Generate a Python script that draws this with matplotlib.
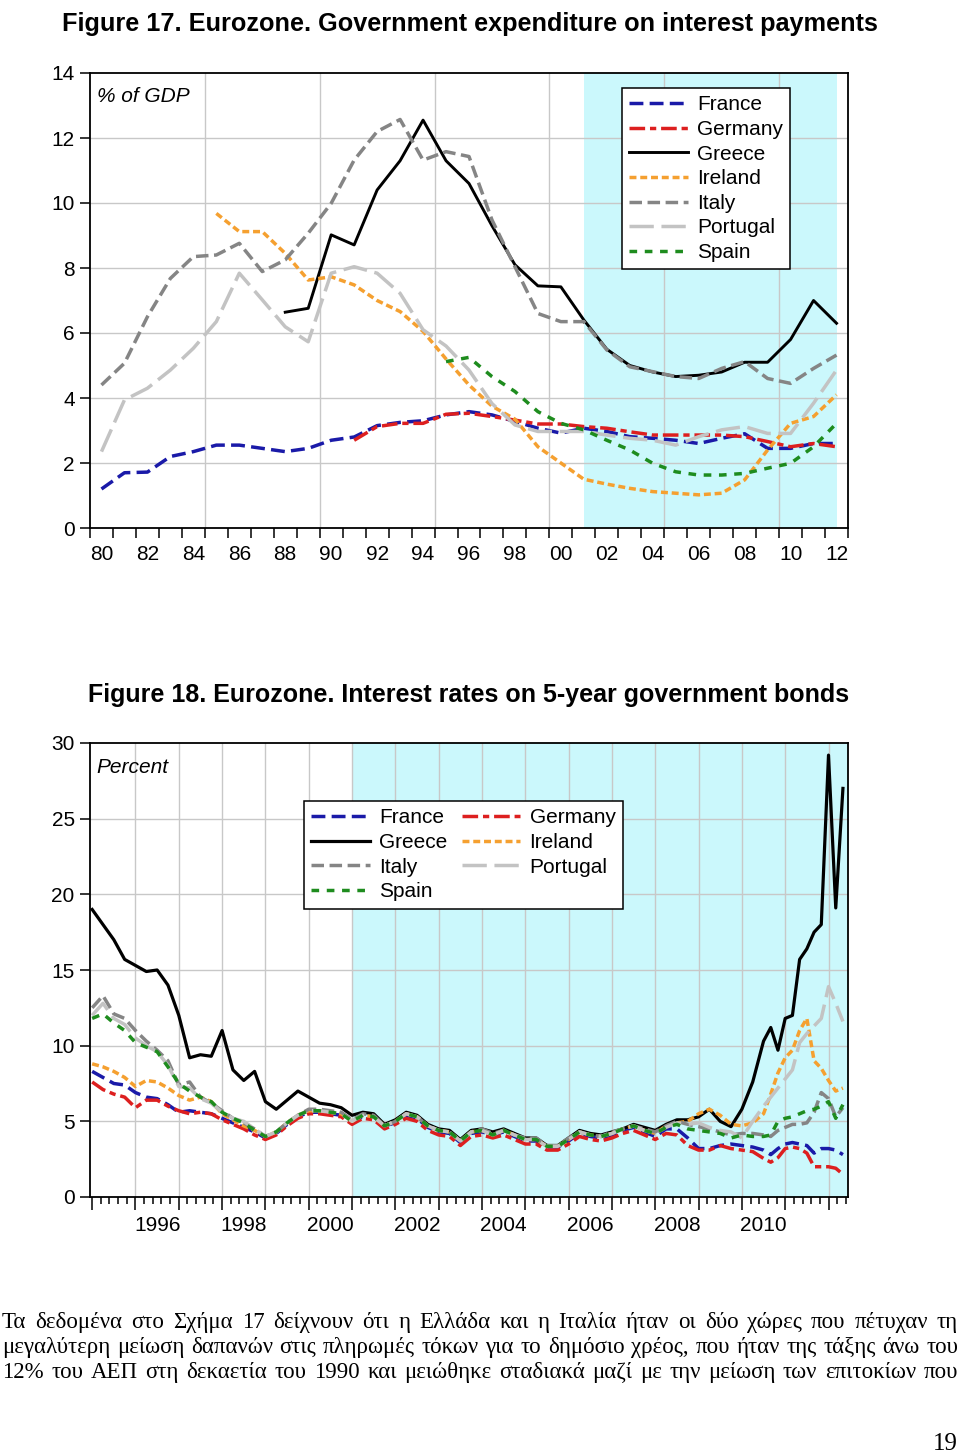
import numpy as np
import matplotlib
matplotlib.use('Agg')
import matplotlib.pyplot as plt
import matplotlib.transforms as mtransforms

plt.rcParams['font.family'] = ['Liberation Sans', 'DejaVu Sans']

W, H = 960, 1455

# ---------------- Figure 17 data (% of GDP, annual) ----------------
france_start, france1 = 1980, [1.2, 1.7, 1.72, 2.2, 2.35, 2.55, 2.55, 2.45, 2.35, 2.45, 2.7, 2.8, 3.15,
                               3.25, 3.3, 3.48, 3.58, 3.48, 3.28, 3.07, 2.92, 3.07, 2.97, 2.81, 2.76,
                               2.7, 2.6, 2.76, 2.9, 2.45, 2.45, 2.6, 2.6]
germany_start, germany1 = 1991, [2.7, 3.12, 3.22, 3.22, 3.5, 3.53, 3.43, 3.32, 3.2, 3.2, 3.12, 3.07,
                                 2.96, 2.86, 2.86, 2.86, 2.86, 2.81, 2.66, 2.5, 2.6, 2.5]
greece_start, greece1 = 1988, [6.64, 6.76, 9.02, 8.71, 10.4, 11.3, 12.55, 11.3, 10.6, 9.3, 8.1, 7.45,
                               7.42, 6.4, 5.5, 5.0, 4.8, 4.66, 4.7, 4.8, 5.1, 5.1, 5.8, 7.0, 6.3]
ireland_start, ireland1 = 1985, [9.68, 9.12, 9.12, 8.45, 7.63, 7.73, 7.48, 7.0, 6.66, 6.05, 5.2, 4.4,
                                 3.75, 3.35, 2.5, 2.0, 1.5, 1.35, 1.22, 1.12, 1.07, 1.02, 1.07, 1.48,
                                 2.4, 3.22, 3.43, 4.1]
italy_start, italy1 = 1980, [4.4, 5.07, 6.5, 7.68, 8.35, 8.4, 8.76, 7.89, 8.25, 9.07, 9.99, 11.32, 12.2,
                             12.57, 11.32, 11.58, 11.43, 9.48, 8.04, 6.6, 6.35, 6.35, 5.48, 4.96, 4.81,
                             4.66, 4.6, 4.91, 5.12, 4.6, 4.45, 4.91, 5.32]
portugal_start, portugal1 = 1980, [2.35, 3.94, 4.3, 4.86, 5.53, 6.35, 7.84, 7.02, 6.19, 5.73, 7.84, 8.04,
                                   7.84, 7.22, 6.1, 5.6, 4.86, 3.83, 3.17, 2.97, 2.97, 2.97, 2.86, 2.76,
                                   2.7, 2.55, 2.81, 3.02, 3.12, 2.91, 2.91, 3.84, 4.86]
spain_start, spain1 = 1995, [5.12, 5.25, 4.66, 4.2, 3.58, 3.22, 3.02, 2.7, 2.4, 1.99, 1.73, 1.63, 1.63,
                             1.68, 1.84, 1.99, 2.5, 3.22]

# ---------------- Figure 18 data (percent, quarterly then bi-monthly) ----------------
bond_dates = list(np.arange(1995.0, 2010.5, 0.25)) + [2010.5, 2010.667, 2010.833, 2011.0, 2011.167,
                                                     2011.333, 2011.5, 2011.667, 2011.833, 2012.0,
                                                     2012.167, 2012.333]
france2 = [8.3, 7.9, 7.5, 7.4, 6.9, 6.6, 6.5, 6.1, 5.6, 5.7, 5.6, 5.5, 5.2, 4.9, 4.6, 4.3,
           3.9, 4.2, 4.8, 5.3, 5.6, 5.6, 5.5, 5.4, 5.0, 5.3, 5.3, 4.7, 4.9, 5.4, 5.2, 4.6,
           4.3, 4.2, 3.6, 4.2, 4.3, 4.1, 4.3, 4.0, 3.7, 3.7, 3.3, 3.3, 3.7, 4.2, 4.0, 3.9,
           4.1, 4.4, 4.6, 4.3, 4.0, 4.5, 4.5, 3.9, 3.2, 3.2, 3.4, 3.5, 3.4, 3.3,
           3.1, 2.8, 3.2, 3.5, 3.6, 3.5, 3.4, 2.9, 3.2, 3.2, 3.1, 2.8]
germany2 = [7.6, 7.1, 6.8, 6.6, 5.9, 6.4, 6.4, 6.0, 5.7, 5.5, 5.6, 5.5, 5.1, 4.8, 4.5, 4.1,
            3.8, 4.1, 4.7, 5.2, 5.5, 5.5, 5.4, 5.3, 4.8, 5.2, 5.1, 4.5, 4.8, 5.2, 5.0, 4.4,
            4.1, 4.0, 3.4, 4.0, 4.1, 3.9, 4.1, 3.8, 3.5, 3.5, 3.1, 3.1, 3.5, 4.0, 3.8, 3.7,
            3.9, 4.2, 4.4, 4.1, 3.8, 4.2, 4.1, 3.4, 3.1, 3.1, 3.4, 3.2, 3.1, 3.0,
            2.55, 2.3, 2.6, 3.2, 3.3, 3.2, 2.9, 2.0, 2.0, 2.0, 1.9, 1.5]
greece2 = [19.0, 18.0, 17.0, 15.7, 15.3, 14.9, 15.0, 14.0, 12.0, 9.2, 9.4, 9.3, 11.0, 8.4, 7.7, 8.3,
           6.3, 5.8, 6.4, 7.0, 6.6, 6.2, 6.1, 5.9, 5.4, 5.6, 5.5, 4.8, 5.1, 5.6, 5.4, 4.8,
           4.5, 4.4, 3.8, 4.4, 4.5, 4.3, 4.5, 4.2, 3.9, 3.9, 3.4, 3.4, 3.9, 4.4, 4.2, 4.1,
           4.3, 4.5, 4.8, 4.6, 4.4, 4.8, 5.1, 5.1, 5.3, 5.8, 5.0, 4.65, 5.8, 7.6,
           10.3, 11.2, 9.7, 11.8, 12.0, 15.7, 16.4, 17.5, 18.0, 29.2, 19.1, 27.0]
ireland2 = [8.8, 8.6, 8.3, 7.9, 7.3, 7.7, 7.6, 7.2, 6.7, 6.4, 6.6, 6.3, 5.5, 5.1, 4.7, 4.4,
            4.0, 4.3, 4.9, 5.4, 5.7, 5.7, 5.6, 5.5, 5.0, 5.4, 5.3, 4.7, 5.0, 5.5, 5.3, 4.7,
            4.4, 4.3, 3.7, 4.3, 4.4, 4.1, 4.4, 4.1, 3.8, 3.8, 3.35, 3.35, 3.8, 4.3, 4.1, 4.0,
            4.2, 4.5, 4.7, 4.4, 4.2, 4.7, 4.9, 5.0, 5.5, 5.8, 5.4, 4.8, 4.7, 4.9,
            5.5, 6.8, 8.2, 9.2, 9.7, 11.0, 11.8, 9.0, 8.5, 7.7, 7.0, 7.2]
italy2 = [12.5, 13.3, 12.1, 11.8, 11.0, 10.3, 9.7, 9.0, 7.4, 7.6, 6.6, 6.2, 5.7, 5.2, 4.9, 4.5,
          4.0, 4.3, 4.9, 5.4, 5.8, 5.8, 5.7, 5.6, 5.1, 5.5, 5.4, 4.7, 5.0, 5.5, 5.3, 4.7,
          4.4, 4.3, 3.7, 4.3, 4.5, 4.2, 4.4, 4.1, 3.9, 3.9, 3.4, 3.4, 3.9, 4.3, 4.1, 4.0,
          4.3, 4.5, 4.7, 4.5, 4.3, 4.7, 5.0, 4.8, 4.65, 4.5, 4.3, 4.1, 4.2, 4.2,
          4.1, 4.0, 4.4, 4.6, 4.8, 4.8, 4.9, 5.6, 6.9, 6.5, 5.3, 5.9]
portugal2 = [12.0, 12.8, 11.8, 11.4, 10.5, 10.0, 9.6, 8.7, 7.3, 7.2, 6.5, 6.2, 5.6, 5.2, 5.0, 4.5,
             4.0, 4.3, 4.9, 5.4, 5.7, 5.7, 5.6, 5.5, 5.0, 5.4, 5.3, 4.7, 5.0, 5.5, 5.3, 4.7,
             4.4, 4.3, 3.7, 4.3, 4.4, 4.1, 4.4, 4.1, 3.8, 3.8, 3.35, 3.35, 3.8, 4.3, 4.1, 4.0,
             4.2, 4.5, 4.7, 4.4, 4.2, 4.6, 4.9, 4.8, 4.9, 4.6, 4.4, 4.3, 3.9, 5.0,
             6.0, 6.6, 7.2, 7.8, 8.4, 10.2, 10.8, 11.3, 11.8, 13.9, 12.8, 11.6]
spain2 = [11.8, 12.1, 11.5, 11.0, 10.2, 9.9, 9.6, 8.6, 7.5, 7.0, 6.6, 6.3, 5.6, 5.2, 4.9, 4.4,
          4.0, 4.3, 4.9, 5.4, 5.7, 5.7, 5.6, 5.5, 5.0, 5.4, 5.3, 4.7, 5.0, 5.5, 5.3, 4.7,
          4.4, 4.3, 3.7, 4.3, 4.4, 4.1, 4.4, 4.1, 3.8, 3.8, 3.35, 3.35, 3.8, 4.3, 4.1, 4.0,
          4.2, 4.5, 4.7, 4.4, 4.2, 4.6, 4.8, 4.5, 4.4, 4.3, 4.2, 3.9, 4.1, 4.0,
          4.0, 4.1, 5.0, 5.2, 5.3, 5.5, 5.7, 5.8, 6.0, 6.3, 5.2, 6.1]

countries = ['France', 'Germany', 'Greece', 'Ireland', 'Italy', 'Portugal', 'Spain']

# line styles (dashes in multiples of line width)
styles = {
    'France': dict(color='#1a1aa8', dashes=(4.0, 1.8)),
    'Germany': dict(color='#dd1f1f', dashes=(4.5, 1.4, 1.8, 1.4)),
    'Greece': dict(color='black', linestyle='-'),
    'Ireland': dict(color='#f5a030', dashes=(2.0, 1.1)),
    'Italy': dict(color='#858585', dashes=(3.6, 1.6)),
    'Portugal': dict(color='#c3c3c3', dashes=(7.0, 2.2)),
    'Spain': dict(color='#1e8c1e', dashes=(2.2, 2.2)),
}

fig1_series = {
    'France': (france_start, france1), 'Germany': (germany_start, germany1),
    'Greece': (greece_start, greece1), 'Ireland': (ireland_start, ireland1),
    'Italy': (italy_start, italy1), 'Portugal': (portugal_start, portugal1),
    'Spain': (spain_start, spain1),
}
fig2_series = {
    'France': france2, 'Germany': germany2, 'Greece': greece2, 'Ireland': ireland2,
    'Italy': italy2, 'Portugal': portugal2, 'Spain': spain2,
}

SHADE = '#cbf8fc'
GRID = '#c8c8c8'
TICK_FS = 15
LEG_KW = dict(borderaxespad=0, fontsize=15, handlelength=2.8, handletextpad=0.45,
              labelspacing=0.27, borderpad=0.35, fancybox=False, framealpha=1,
              edgecolor='black')


def px_axes(left, top, right, bottom):
    """Axes rectangle from pixel box."""
    return [left / W, 1 - bottom / H, (right - left) / W, (bottom - top) / H]


def style_axes(ax):
    for sp in ax.spines.values():
        sp.set_linewidth(1.3)
        sp.set_color('black')
    ax.tick_params(axis='both', which='both', direction='out', color='black', width=1.1)
    ax.tick_params(axis='y', which='major', length=7, pad=4, labelsize=TICK_FS)
    ax.tick_params(axis='x', which='both', labelbottom=False)


fig = plt.figure(figsize=(W / 100, H / 100), dpi=100)
fig.patch.set_facecolor('white')

# ---------------- Figure 17 ----------------
ax1 = fig.add_axes(px_axes(90, 73, 848, 528))
ax1.axvspan(2001, 2012, color=SHADE, zorder=0, lw=0)
for yy in range(2, 14, 2):
    ax1.axhline(yy, color=GRID, lw=1, zorder=1)
for xx in [1984.5, 1989.5, 1994.5, 1999.5, 2004.5, 2009.5]:
    ax1.axvline(xx, color=GRID, lw=1, zorder=1)

lines1 = []
for c in countries:
    start, vals = fig1_series[c]
    yrs = np.arange(start, start + len(vals))
    lw = 2.1 if c == 'Greece' else 2.5
    ln, = ax1.plot(yrs, vals, lw=lw, label=c, zorder=3, **styles[c])
    lines1.append(ln)

ax1.set_xlim(1979.5, 2012.5)
ax1.set_ylim(0, 14)
ax1.set_yticks(range(0, 15, 2))
ax1.set_xticks(np.arange(1979.5, 2013, 1.0))
style_axes(ax1)
ax1.tick_params(axis='x', which='major', length=7)
trans1 = mtransforms.blended_transform_factory(ax1.transData, ax1.transAxes)
for yr in range(1980, 2013, 2):
    ax1.text(yr, -0.058, f'{yr % 100:02d}', transform=trans1, ha='center', va='center',
             fontsize=TICK_FS)
ax1.text(0.009, 0.949, '% of GDP', transform=ax1.transAxes, fontsize=15, style='italic',
         ha='left', va='center')

leg1 = ax1.legend(handles=lines1, loc='upper left', bbox_to_anchor=(0.702, 0.967), **LEG_KW)
leg1.get_frame().set_linewidth(1.1)
leg1.set_zorder(5)

fig.text(62 / W, 1 - 24 / H, 'Figure 17. Eurozone. Government expenditure on interest payments',
         fontsize=18.2, fontweight='bold', ha='left', va='center')

# ---------------- Figure 18 ----------------
ax2 = fig.add_axes(px_axes(90, 743, 848, 1197))
ax2.axvspan(2001, 2013, color=SHADE, zorder=0, lw=0)
for yy in range(5, 30, 5):
    ax2.axhline(yy, color=GRID, lw=1, zorder=1)
for xx in range(1996, 2013):
    ax2.axvline(xx, color=GRID, lw=1, zorder=1)

lines2 = {}
for c in countries:
    lw = 2.3 if c == 'Greece' else 2.5
    ln, = ax2.plot(bond_dates, fig2_series[c], lw=lw, label=c, zorder=3, **styles[c])
    lines2[c] = ln

ax2.set_xlim(1994.95, 2012.45)
ax2.set_ylim(0, 30)
ax2.set_yticks(range(0, 31, 5))
ax2.set_xticks(range(1995, 2013))
ax2.set_xticks(np.arange(1995.0, 2012.45, 0.2), minor=True)
style_axes(ax2)
ax2.tick_params(axis='x', which='major', length=9)
ax2.tick_params(axis='x', which='minor', length=5)
trans2 = mtransforms.blended_transform_factory(ax2.transData, ax2.transAxes)
for yr in range(1996, 2012, 2):
    ax2.text(yr + 0.5, -0.062, str(yr), transform=trans2, ha='center', va='center',
             fontsize=TICK_FS)
ax2.text(0.009, 0.947, 'Percent', transform=ax2.transAxes, fontsize=15, style='italic',
         ha='left', va='center')

order2 = ['France', 'Greece', 'Italy', 'Spain', 'Germany', 'Ireland', 'Portugal']
leg2 = ax2.legend(handles=[lines2[c] for c in order2], loc='upper left',
                  bbox_to_anchor=(0.2823, 0.872), ncol=2, columnspacing=0.7, **LEG_KW)
leg2.get_frame().set_linewidth(1.1)
leg2.set_zorder(5)

fig.text(88 / W, 1 - 695 / H, 'Figure 18. Eurozone. Interest rates on 5-year government bonds',
         fontsize=18.0, fontweight='bold', ha='left', va='center')

# ---------------- Greek paragraph (justified) ----------------
para_lines = [
    'Τα δεδομένα στο Σχήμα 17 δείχνουν ότι η Ελλάδα και η Ιταλία ήταν οι δύο χώρες που πέτυχαν τη',
    'μεγαλύτερη μείωση δαπανών στις πληρωμές τόκων για το δημόσιο χρέος, που ήταν της τάξης άνω του',
    '12% του ΑΕΠ στη δεκαετία του 1990 και μειώθηκε σταδιακά μαζί με την μείωση των επιτοκίων που',
]
baselines = [1328, 1353, 1378]
text_left, text_right = 2, 958
PARA_FS = 16.5

fig.canvas.draw()
renderer = fig.canvas.get_renderer()
for line, base in zip(para_lines, baselines):
    words = line.split(' ')
    objs = [fig.text(0, 1 - base / H, w, fontsize=PARA_FS,
                     family=['Liberation Serif', 'DejaVu Serif'],
                     ha='left', va='baseline') for w in words]
    widths = [o.get_window_extent(renderer).width for o in objs]
    gap = (text_right - text_left - sum(widths)) / (len(words) - 1)
    x = text_left
    for o, wdt in zip(objs, widths):
        o.set_x(x / W)
        x += wdt + gap

fig.text(958 / W, 1 - 1450 / H, '19', fontsize=18, family=['Liberation Serif', 'DejaVu Serif'],
         ha='right', va='baseline')

fig.savefig('out.png', dpi=100, facecolor='white')
